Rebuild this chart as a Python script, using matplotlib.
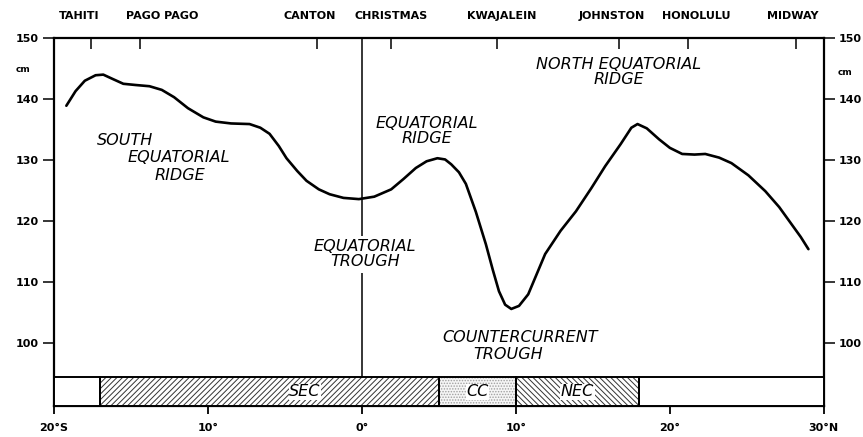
import matplotlib.pyplot as plt

plt.rcParams['hatch.linewidth'] = 0.7

# sea level profile (cm) vs latitude (negative = south)
lat = [-19.2, -18.6, -18.0, -17.3, -16.8, -16.2, -15.5, -14.7, -13.8, -13.0,
       -12.2, -11.3, -10.3, -9.5, -8.5, -7.3, -6.6, -6.0, -5.4, -4.9,
       -4.2, -3.6, -2.8, -2.1, -1.2, -0.2, 0.8, 1.9, 2.7, 3.5,
       4.2, 4.9, 5.4, 5.8, 6.3, 6.75, 7.4, 8.05, 8.5, 8.9,
       9.3, 9.7, 10.2, 10.8, 11.3, 11.9, 12.9, 13.9, 14.9, 15.8,
       16.8, 17.5, 17.9, 18.5, 19.3, 20.0, 20.8, 21.6, 22.3, 23.2,
       24.0, 25.1, 26.2, 27.1, 27.9, 28.5, 29.0]
level = [138.9, 141.3, 143.0, 143.9, 144.0, 143.3, 142.5, 142.3, 142.1, 141.5,
         140.3, 138.5, 137.0, 136.3, 136.0, 135.9, 135.3, 134.3, 132.3, 130.3,
         128.2, 126.6, 125.2, 124.4, 123.8, 123.6, 124.0, 125.2, 126.9, 128.7,
         129.8, 130.3, 130.1, 129.3, 128.0, 126.1, 121.5, 116.2, 112.0, 108.5,
         106.3, 105.6, 106.1, 108.0, 111.0, 114.6, 118.4, 121.6, 125.4, 129.0,
         132.6, 135.3, 135.9, 135.2, 133.4, 132.0, 131.0, 130.9, 131.0, 130.4,
         129.5, 127.5, 124.9, 122.3, 119.5, 117.4, 115.4]

# stations along the top
stations = ['TAHITI', 'PAGO PAGO', 'CANTON', 'CHRISTMAS', 'KWAJALEIN',
            'JOHNSTON', 'HONOLULU', 'MIDWAY']
station_lat = [-17.6, -14.4, -2.9, 1.9, 8.8, 16.7, 21.2, 28.2]
# where the names sit (not centred on their ticks in the original)
station_label_x = [-18.4, -13.0, -3.4, 1.9, 9.1, 16.2, 21.7, 28.0]

# current bands at the bottom
band_start = [-20, -17, 5, 10, 18]
band_end = [-17, 5, 10, 18, 30]
band_name = ['', 'SEC', 'CC', 'NEC', '']

xticks = [-20, -10, 0, 10, 20, 30]
xticklabels = ['20°S', '10°', '0°', '10°', '20°', '30°N']
yticks = [100, 110, 120, 130, 140, 150]

YMIN, YMAX = 89.7, 150
BAND_TOP = 94.4

fig = plt.figure(figsize=(8.63, 4.37), dpi=100)
ax = fig.add_axes([0.0626, 0.071, 0.892, 0.842])
ax.set_xlim(-20, 30)
ax.set_ylim(YMIN, YMAX)

ax.plot(lat, level, color='black', lw=1.9, solid_capstyle='round', zorder=4)
ax.axvline(0, color='black', lw=1.1, zorder=2)

# ── bandas de corrente ──
hatches = {'SEC': '//////', 'NEC': '\\\\\\\\\\\\', 'CC': '......'}
for s, e, n in zip(band_start, band_end, band_name):
    if n == 'CC':
        ax.bar(s, BAND_TOP - YMIN, width=e - s, bottom=YMIN, align='edge',
               color='#f6f6f6', edgecolor='#a0a0a0', hatch=hatches[n], lw=0, zorder=3)
    else:
        ax.bar(s, BAND_TOP - YMIN, width=e - s, bottom=YMIN, align='edge',
               color='white', edgecolor='#333333', hatch=hatches.get(n), lw=0, zorder=3)
    ax.bar(s, BAND_TOP - YMIN, width=e - s, bottom=YMIN, align='edge',
           fill=False, edgecolor='black', lw=1.4, zorder=5)
    if n:
        ax.text((s + e) / 2 if n != 'SEC' else -3.7, (YMIN + BAND_TOP) / 2, n,
                ha='center', va='center', fontsize=11.5, style='italic', zorder=6,
                bbox=dict(facecolor='white', edgecolor='none', pad=0.3))

# ── rótulos das feições ──
tk = dict(fontsize=11.5, style='italic', ha='center', va='center', zorder=6)
ax.text(-15.4, 133.2, 'SOUTH', **tk)
ax.text(-11.9, 130.4, 'EQUATORIAL', **tk)
ax.text(-11.8, 127.5, 'RIDGE', **tk)
ax.text(4.2, 134.8, 'EQUATORIAL\nRIDGE', linespacing=1.0, **tk)
ax.text(16.7, 144.4, 'NORTH EQUATORIAL\nRIDGE', linespacing=1.0, **tk)
ax.text(0.2, 114.6, 'EQUATORIAL\nTROUGH', linespacing=1.0,
        bbox=dict(facecolor='white', edgecolor='none', pad=2.5), **tk)
ax.text(10.3, 101.0, 'COUNTERCURRENT', **tk)
ax.text(9.5, 98.1, 'TROUGH', **tk)

# ── eixos ──
for sp in ax.spines.values():
    sp.set_linewidth(1.6)
ax.set_xticks(xticks)
ax.set_xticklabels(xticklabels, fontsize=8, fontweight='bold')
ax.set_yticks(yticks)
ax.set_yticklabels([str(v) for v in yticks], fontsize=8, fontweight='bold')
ax.tick_params(axis='x', direction='out', length=6, width=1.3, pad=6)
ax.tick_params(axis='y', direction='out', length=8, width=1.1, pad=3,
               right=True, labelright=True)
ax.text(-0.04, 0.915, 'cm', transform=ax.transAxes, fontsize=6.5,
        fontweight='bold', ha='center', va='center')
ax.text(1.028, 0.905, 'cm', transform=ax.transAxes, fontsize=6.5,
        fontweight='bold', ha='center', va='center')

# estações no topo
top = ax.twiny()
top.set_xlim(ax.get_xlim())
top.set_xticks(station_lat)
top.set_xticklabels([])
top.tick_params(axis='x', direction='in', length=8, width=1.1)
for sp in top.spines.values():
    sp.set_visible(False)
for name, x in zip(stations, station_label_x):
    ax.text(x, 1.045, name, transform=ax.get_xaxis_transform(), fontsize=8,
            fontweight='bold', ha='center', va='bottom')

fig.savefig('out.png', dpi=100)
